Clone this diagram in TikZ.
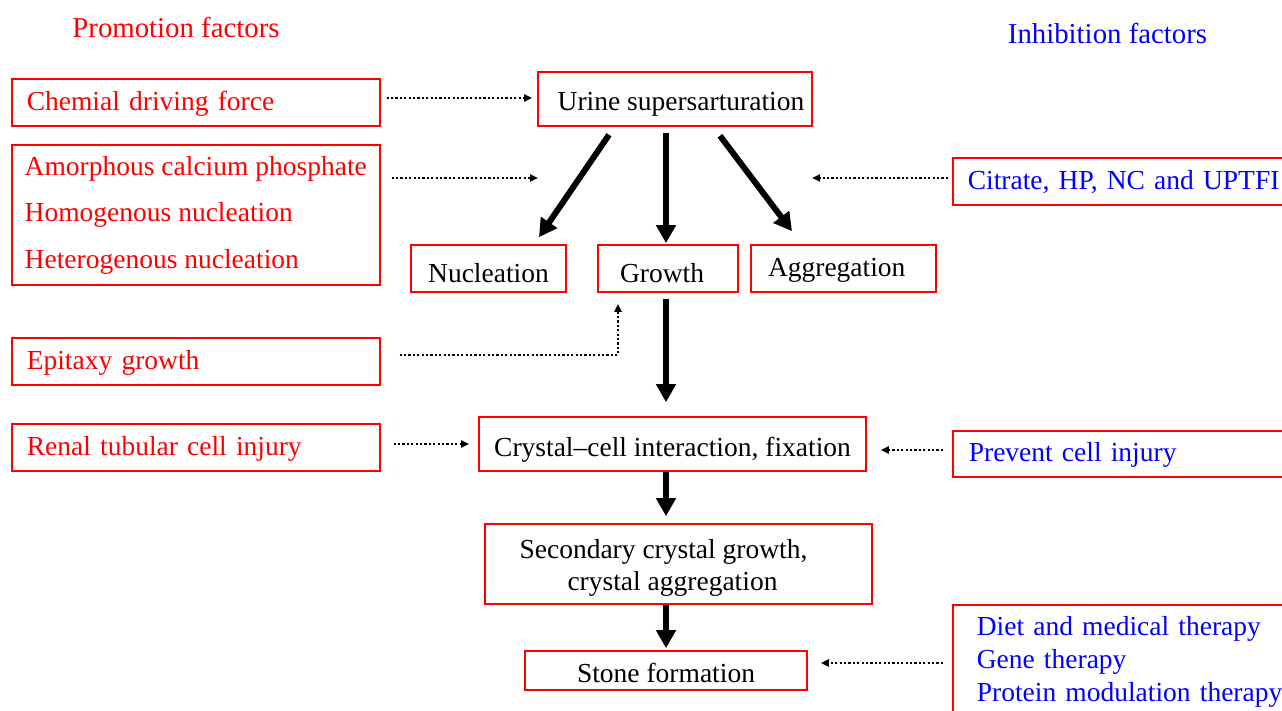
\documentclass[tikz,border=0pt]{standalone}
\usepackage{fontspec}
\setmainfont{Liberation Serif}
\usetikzlibrary{arrows.meta,calc}
\definecolor{pred}{RGB}{255,0,0}
\definecolor{pblue}{RGB}{0,0,255}
\begin{document}
\begin{tikzpicture}[x=1pt,y=-1pt,
  box/.style={draw=pred, line width=1.6pt, inner sep=0pt, font=\fontsize{27.5}{33}\selectfont, text height=20pt, text depth=5pt},
  lbox/.style={box, anchor=west, minimum width=368pt, text=pred, align=left, inner xsep=15pt, text width=338pt},
  rbox/.style={box, anchor=west, minimum width=360pt, text=pblue, align=left, inner xsep=15pt, text width=330pt},
  cbox/.style={box, text=black},
  title/.style={font=\fontsize{28.8}{34}\selectfont, anchor=base},
  bigarrow/.style={line width=6pt, -{Triangle[length=18pt,width=19pt]}},
  dotarrow/.style={line width=2.2pt, dash pattern=on 2.2pt off 2.2pt, -{Triangle[length=8pt,width=7pt]}},
]
\useasboundingbox (0,0) rectangle (1282,710);
\clip (0,0) rectangle (1282,710);

\node[title, text=pred] (tprom) at (176,37) {Promotion factors};
\node[title, text=pblue] (tinh) at (1107.5,43.5) {Inhibition factors};

\node[lbox, minimum height=47pt] (chem) at (11,102.5) {Chemial driving force};
\node[box, anchor=west, text=pred, minimum width=368pt, minimum height=140pt, text height=, text depth=, align=left, font=\fontsize{27.5}{46.5}\selectfont] (amor) at (11,215) {Amorphous calcium phosphate\\Homogenous nucleation\\Heterogenous nucleation\hspace*{40pt}};
\node[lbox, minimum height=47pt] (epi) at (11,361.5) {Epitaxy growth};
\node[lbox, minimum height=47pt] (renal) at (11,447.5) {Renal tubular cell injury};

\node[cbox, minimum width=274pt, minimum height=54pt, text height=28pt, text depth=6pt] (urine) at (675,99) {\hspace*{12pt}Urine supersarturation};
\node[cbox, minimum width=155pt, minimum height=47pt, text height=34.6pt, text depth=6pt] (nuc) at (488.5,268.5) {Nucleation};
\node[cbox, minimum width=140pt, minimum height=47pt, text height=34.6pt, text depth=6pt, align=left, inner xsep=22pt, text width=96pt] (growth) at (668,268.5) {Growth};
\node[cbox, minimum width=185pt, minimum height=47pt, align=left, inner xsep=17pt, text width=151pt] (agg) at (843.5,268.5) {Aggregation};
\node[cbox, minimum width=387pt, minimum height=54pt, text height=30pt, text depth=6pt] (cell) at (672.5,444) {Crystal–cell interaction, fixation};
\node[cbox, minimum width=387pt, minimum height=80pt, text height=, text depth=, align=center, font=\fontsize{27.5}{32}\selectfont] (sec) at (678.5,564) {\rule{0pt}{27pt}Secondary crystal growth,\hspace*{30pt}\\crystal aggregation\hspace*{12pt}};
\node[cbox, minimum width=282pt, minimum height=39pt, text height=29pt, text depth=6pt] (stone) at (666,670.5) {Stone formation};

\node[rbox, minimum height=47pt] (cit) at (952,181.5) {Citrate, HP, NC and UPTFI};
\node[rbox, minimum height=46pt, inner xsep=16pt, text width=328pt] (prev) at (952,454) {Prevent cell injury};
\node[rbox, minimum height=113pt, text height=, text depth=, inner xsep=24pt, text width=312pt] (diet) at (952,661.5) {Diet and medical therapy\\Gene therapy\\Protein modulation therapy};

\draw[bigarrow] ([xshift=-66pt,yshift=-8pt]urine.south) -- ([xshift=50.5pt,yshift=7pt]nuc.north);
\draw[bigarrow] ([xshift=-9pt,yshift=-6pt]urine.south) -- ([xshift=-2pt,yshift=1pt]growth.north);
\draw[bigarrow] ([xshift=45pt,yshift=-9pt]urine.south) -- ([xshift=-51.5pt,yshift=13pt]agg.north);
\draw[bigarrow] ([xshift=-2pt,yshift=-6pt]growth.south) -- ([xshift=-6.5pt,yshift=14pt]cell.north);
\draw[bigarrow] ([xshift=-6.5pt]cell.south) -- ([xshift=-12.5pt,yshift=7pt]sec.north);
\draw[bigarrow] ([xshift=-12.5pt]sec.south) -- ([yshift=2pt]stone.north);

\coordinate (e2) at (538,178);
\coordinate (e3) at (812,178);
\draw[dotarrow] ([xshift=6pt,yshift=4.5pt]chem.east) -- ([xshift=-5pt,yshift=1pt]urine.west);
\draw[dotarrow] ([xshift=11pt,yshift=37pt]amor.east) -- (e2);
\draw[dotarrow] ([xshift=-4pt,yshift=3.5pt]cit.west) -- (e3);
\draw[dotarrow] ([xshift=19pt,yshift=6.5pt]epi.east) -| ([xshift=-50pt,yshift=-11pt]growth.south);
\draw[dotarrow] ([xshift=13pt,yshift=3.5pt]renal.east) -- ([xshift=-9pt]cell.west);
\draw[dotarrow] ([xshift=-9pt,yshift=4pt]prev.west) -- ([xshift=14pt,yshift=-6pt]cell.east);
\draw[dotarrow] ([xshift=-9pt,yshift=-1.5pt]diet.west) -- ([xshift=13pt,yshift=7.5pt]stone.east);
\end{tikzpicture}
\end{document}
